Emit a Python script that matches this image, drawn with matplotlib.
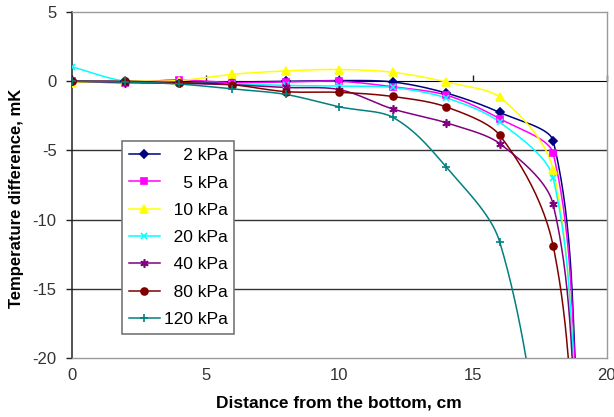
import numpy as np
import matplotlib
matplotlib.use("Agg")
import matplotlib.pyplot as plt

plt.rcParams['font.family'] = ['Liberation Sans', 'DejaVu Sans']
plt.rcParams['axes.unicode_minus'] = False

# distance from the bottom, cm (last point lies below the visible range)
x_main = [0, 2, 4, 6, 8, 10, 12, 14, 16, 18, 19]
x_120 = [0, 2, 4, 6, 8, 10, 12, 14, 16, 18]

labels = ['2 kPa', '5 kPa', '10 kPa', '20 kPa', '40 kPa', '80 kPa', '120 kPa']
kpa_2 = [0, 0, -0.1, -0.05, 0, 0.05, -0.05, -0.85, -2.25, -4.3, -26]
kpa_5 = [0, -0.1, 0.1, -0.1, -0.05, 0, -0.4, -1.0, -2.7, -5.2, -27]
kpa_10 = [-0.1, 0, 0.05, 0.5, 0.75, 0.85, 0.65, -0.05, -1.15, -6.4, -28]
kpa_20 = [1.05, 0, -0.1, -0.2, -0.3, -0.35, -0.45, -1.2, -2.95, -7.0, -28]
kpa_40 = [0, -0.1, -0.15, -0.25, -0.45, -0.6, -2.0, -3.0, -4.5, -8.9, -29]
kpa_80 = [0, 0, -0.1, -0.25, -0.75, -0.8, -1.1, -1.85, -3.9, -11.9, -32]
kpa_120 = [0, -0.05, -0.2, -0.55, -0.95, -1.85, -2.6, -6.2, -11.6, -32]

series = [
    (x_main, kpa_2, '#000080', 'D', 4.5),
    (x_main, kpa_5, '#ff00ff', 's', 5),
    (x_main, kpa_10, '#ffff00', '^', 6),
    (x_main, kpa_20, '#00ffff', 'x', 5),
    (x_main, kpa_40, '#800080', (6, 2, 0), 6),
    (x_main, kpa_80, '#800000', 'o', 5),
    (x_120, kpa_120, '#008080', '+', 6),
]

grid_levels = [-15, -10, -5]


def smooth(xs, ys, n=40):
    # bezier "smoothed line", tangents scaled by neighbouring chord lengths
    p = np.column_stack([xs, ys]).astype(float)
    m = len(p)
    out = [p[0]]
    t = np.linspace(0, 1, n)[1:, None]

    def ctrl(i):
        # returns (incoming, outgoing) control offsets at point i
        if i == 0:
            d = p[1] - p[0]
            return d / 3, d / 3
        if i == m - 1:
            d = p[-1] - p[-2]
            return d / 3, d / 3
        dp = np.linalg.norm(p[i] - p[i - 1])
        dn = np.linalg.norm(p[i + 1] - p[i])
        tang = p[i + 1] - p[i - 1]
        return tang * dp / (dp + dn) / 3, tang * dn / (dp + dn) / 3

    for i in range(m - 1):
        c1 = p[i] + ctrl(i)[1]
        c2 = p[i + 1] - ctrl(i + 1)[0]
        seg = ((1 - t) ** 3 * p[i] + 3 * t * (1 - t) ** 2 * c1
               + 3 * t ** 2 * (1 - t) * c2 + t ** 3 * p[i + 1])
        out.extend(seg)
    out = np.array(out)
    return out[:, 0], out[:, 1]


fig = plt.figure(figsize=(6.14, 4.17), dpi=100)
ax = fig.add_axes([0.117, 0.1415, 0.871, 0.8295])

for lv in grid_levels:
    ax.axhline(lv, color='#333333', lw=1.0, zorder=1)

handles = []
for (xs, ys, col, mk, ms), lab in zip(series, labels):
    sx, sy = smooth(xs, ys)
    ax.plot(sx, sy, color=col, lw=1.1, zorder=3)
    ax.plot(xs, ys, ls='none', marker=mk, color=col, ms=ms, mew=1.2, zorder=4)
    h, = ax.plot([], [], color=col, lw=1.1, marker=mk, ms=ms, mew=1.2)
    handles.append(h)

ax.set_xlim(0, 20)
ax.set_ylim(-20, 5)
ax.set_xticks([0, 5, 10, 15, 20])
ax.set_yticks([-20, -15, -10, -5, 0, 5])

for side in ['top', 'right', 'bottom']:
    ax.spines[side].set_color('#9a9a9a')
    ax.spines[side].set_linewidth(1.0)
ax.spines['left'].set_color('#222222')
ax.spines['left'].set_linewidth(1.1)

ax.tick_params(axis='y', direction='out', length=4, width=1, color='#222222',
               labelsize=12, labelcolor='#333333', pad=7)
ax.tick_params(axis='x', length=0, labelsize=12, labelcolor='#333333', pad=7)

# horizontal axis crossing at zero
sec = ax.secondary_xaxis(0.8)
sec.set_xticks([0, 5, 10, 15, 20])
sec.tick_params(direction='out', length=4, width=1, color='#222222', labelbottom=False)
sec.spines['bottom'].set_color('#222222')
sec.spines['bottom'].set_linewidth(1.1)
sec.set_xticklabels([])

ax.set_xlabel('Distance from the bottom, cm', fontsize=12.5, fontweight='bold', labelpad=9)
ax.set_ylabel('Temperature difference, mK', fontsize=12, fontweight='bold')
ax.yaxis.set_label_coords(-0.09, 0.462)

pad_labels = [('\u2007' * (7 - len(l))) + l for l in labels]
leg = ax.legend(handles, pad_labels, loc='upper left', bbox_to_anchor=(0.0935, 0.627),
                fontsize=12.5, frameon=True, fancybox=False, edgecolor='#777777',
                framealpha=1, borderpad=0.4, labelspacing=0.7, handlelength=1.8,
                handletextpad=0.2, borderaxespad=0)
leg.get_frame().set_linewidth(1.2)
leg.set_zorder(5)

fig.savefig('out.png', dpi=100)
